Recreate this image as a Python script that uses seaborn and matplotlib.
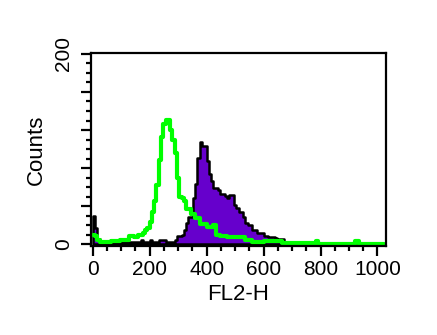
import numpy as np
import pandas as pd
import matplotlib
matplotlib.use("Agg")
import matplotlib.pyplot as plt
from matplotlib.ticker import MultipleLocator
import seaborn as sns

# histogram channels: 128 bins of width 8 on FL2-H (0..1024)
bin_width = 8
n_bins = 128

# green (control) histogram, counts per bin
green_counts = [10, 8, 4, 2, 2, 2, 2, 2, 3, 3, 3, 3, 4, 4, 4, 4,
                8, 8, 7, 7, 10, 10, 12, 15, 17, 23, 34, 45, 62, 88, 113, 126,
                131, 131, 120, 110, 96, 70, 50, 48, 45, 37, 37, 32, 32, 27, 27, 21,
                21, 21, 18, 18, 18, 20, 10, 10, 9, 9, 9, 7, 7, 7, 7, 7,
                7, 7, 7, 4, 4, 4, 2.5, 2.5, 2.5, 2.5, 2.5, 3, 3, 3, 3, 3,
                3, 3, 3, 1, 1, 1, 1, 1, 1, 1, 1, 1, 1, 1, 1, 1,
                1, 1, 3, 0.5, 0.5, 0.5, 0.5, 0.5, 0.5, 0.5, 0.5, 0.5, 0.5, 0.5, 0.5, 0.5,
                0.5, 0.5, 0.5, 3, 3, 0.5, 0.5, 0.5, 0.5, 0.5, 0.5, 0.5, 0.5, 0.5, 0.5, 0.5]

# purple (stained) histogram, counts per bin
purple_counts = [30, 17, 5, 1, 1, 1, 1, 3, 1, 1, 1, 2, 2, 2, 2, 2,
                 2, 2, 2.5, 2.5, 2.5, 4, 2.5, 2.5, 2.5, 4, 2.5, 2.5, 2.5, 4, 4, 4,
                 2.5, 2.5, 2.5, 2.5, 4, 8.5, 8.5, 9.5, 14.8, 21.8, 28.8, 28.8, 48, 63, 91, 107,
                 103, 103, 87, 73.5, 66, 59, 59, 57, 53, 53, 51, 48, 52, 52, 41, 37.6,
                 34, 34, 28, 21.8, 20, 20, 14.8, 14.8, 11.3, 11.3, 11.3, 9, 9, 7.7, 7.7, 7.7,
                 6, 5, 5, 5, 2.5, 2.5, 2.5, 2.5, 2.5, 2.5, 1, 1, 0.5, 1, 0.5, 0.5,
                 1, 0.5, 0.5, 1, 0.5, 0.5, 1, 0.5, 0.5, 1, 0.5, 0.5, 1, 0.5, 0.5, 1,
                 0.5, 0.5, 1, 0.5, 0.5, 0.5, 1, 0.5, 0.5, 1, 0.5, 0.5, 0.5, 1, 0.5, 0.5]

x_ticks = [0, 200, 400, 600, 800, 1000]
x_tick_labels = ["0", "200", "400", "600", "800", "1000"]
y_ticks = [0, 40, 80, 120, 160, 200]
y_tick_labels = ["0", "", "", "", "", "200"]

edges = [float(i * bin_width) for i in range(n_bins + 1)]
centers = [e + bin_width / 2 for e in edges[:-1]]
df = pd.DataFrame({"fl2h": centers, "green": green_counts, "purple": purple_counts})

sns.set_style("ticks")
plt.rcParams["font.family"] = ["Liberation Sans", "DejaVu Sans"]
plt.rcParams["text.color"] = "black"
plt.rcParams["axes.labelcolor"] = "black"
plt.rcParams["xtick.color"] = "black"
plt.rcParams["ytick.color"] = "black"

fig = plt.figure(figsize=(4.37, 3.35), dpi=100)
ax = fig.add_axes([91 / 437, 1 - 246 / 335, (386 - 91) / 437, (246 - 53) / 335])

sns.histplot(data=df, x="fl2h", weights="purple", bins=edges, element="step",
             fill=True, color="#6600cc", alpha=1, edgecolor="black",
             linewidth=1.8, ax=ax)
sns.histplot(data=df, x="fl2h", weights="green", bins=edges, element="step",
             fill=False, color="#00ff00", linewidth=3.0, ax=ax)

ax.set_xlim(-6, 1030)
ax.set_ylim(-2, 201)

ax.set_xticks(x_ticks, labels=x_tick_labels)
ax.set_yticks(y_ticks, labels=y_tick_labels)
ax.xaxis.set_minor_locator(MultipleLocator(50))
ax.yaxis.set_minor_locator(MultipleLocator(10))

for lab in ax.get_yticklabels():
    lab.set_rotation(90)
    lab.set_va("center")

ax.tick_params(axis="both", which="major", length=7, width=1.6,
               labelsize=15, color="black", labelcolor="black")
ax.tick_params(axis="both", which="minor", length=3.6, width=1.6, color="black")
ax.tick_params(axis="x", which="major", pad=3)
ax.tick_params(axis="y", which="major", pad=6)

for sp in ax.spines.values():
    sp.set_visible(True)
    sp.set_linewidth(1.6)
    sp.set_color("black")

ax.set_xlabel("FL2-H", fontsize=16, labelpad=4, color="black")
ax.set_ylabel("Counts", fontsize=16, labelpad=5, color="black")

fig.savefig("out.png", dpi=100)
